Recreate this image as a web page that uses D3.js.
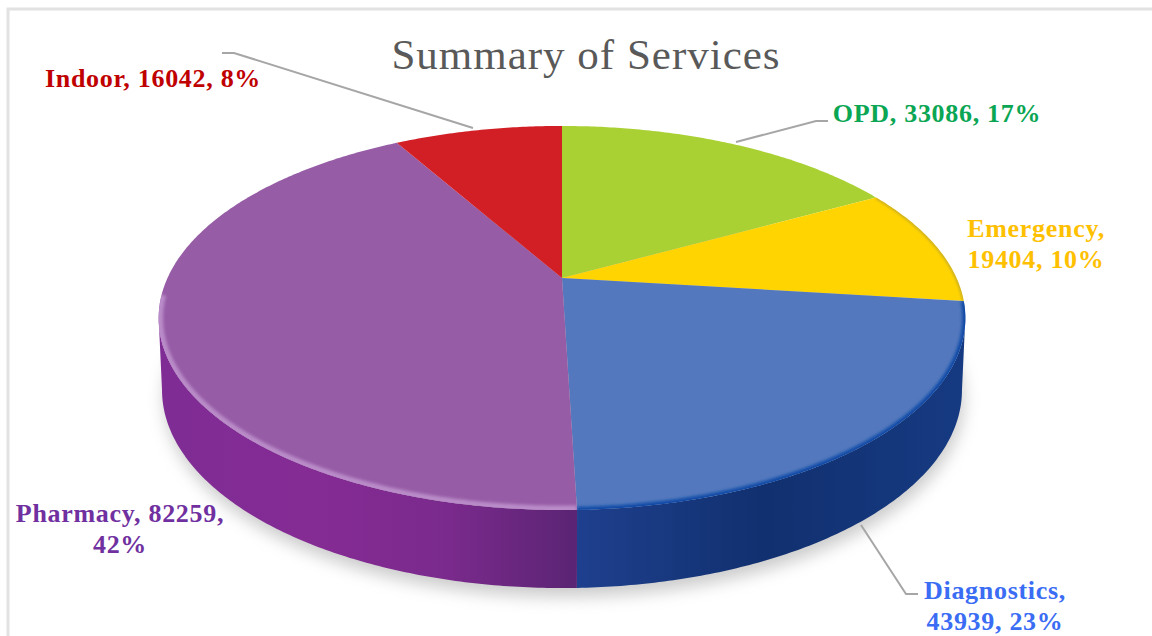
<!DOCTYPE html>
<html lang="en">
<head>
<meta charset="utf-8" />
<title>Summary of Services</title>
<script src="https://d3js.org/d3.v7.min.js"></script>
<style>
  body { margin: 0; background: #fff; }
  svg { display: block; }
  text { font-family: "Liberation Serif", "DejaVu Serif", serif; }
  .title { fill: #595959; font-size: 43px; letter-spacing: 1px; text-anchor: middle; }
  .label { font-size: 26px; font-weight: bold; text-anchor: middle; letter-spacing: 0.7px; }
  .leader { fill: none; stroke: #a6a6a6; stroke-width: 2px; }
</style>
</head>
<body>
<div id="chart"></div>
<script>
var categories = ["OPD", "Emergency", "Diagnostics", "Pharmacy", "Indoor"];
var values = [33086, 19404, 43939, 82259, 16042];
var percents = [17, 10, 23, 42, 8];

var topColors = ["#a9d134", "#ffd400", "#5378bd", "#965ca6", "#d21f26"];
var labelColors = ["#0aa654", "#ffc000", "#3a6cf4", "#7030a0", "#c00000"];

var width = 1152, height = 636;

// perspective of the disc: k is the foreshortening, the rest place it on the page
var k = 0.2083;
var topDisc = { x: 562, y: 278, a: 183.7, b: 394.5 };
var baseDisc = { x: 562, y: 348.8, a: 189.4, b: 391.2 };

// angles where the disc outline is widest, the wall stops there
var rightEdge = Math.PI / 2 + Math.asin(k);
var leftEdge = 3 * Math.PI / 2 - Math.asin(k);

function project(disc, angle) {
  var u = Math.sin(angle), v = Math.cos(angle), d = 1 + k * v;
  return [disc.x + disc.b * u / d, disc.y - disc.a * v / d];
}

function arcPoints(disc, a0, a1) {
  var n = Math.max(2, Math.ceil(Math.abs(a1 - a0) / 0.01));
  return d3.range(n + 1).map(function (i) { return project(disc, a0 + (a1 - a0) * i / n); });
}

var line = d3.line();

var slices = d3.pie().sort(null).value(function (d) { return d; })(values);

var svg = d3.select("#chart").append("svg").attr("width", width).attr("height", height);
var defs = svg.append("defs");

var shadow = defs.append("filter").attr("id", "shadow")
  .attr("x", "-10%").attr("y", "-10%").attr("width", "120%").attr("height", "125%");
shadow.append("feGaussianBlur").attr("stdDeviation", 8);

var soft = defs.append("filter").attr("id", "soft")
  .attr("x", "-5%").attr("y", "-5%").attr("width", "110%").attr("height", "110%");
soft.append("feGaussianBlur").attr("stdDeviation", 1.8);

function sideGradient(id, stops) {
  var g = defs.append("linearGradient").attr("id", id)
    .attr("gradientUnits", "userSpaceOnUse")
    .attr("x1", 158).attr("x2", 966).attr("y1", 0).attr("y2", 0);
  stops.forEach(function (s) {
    g.append("stop").attr("offset", s[0]).attr("stop-color", s[1]);
  });
}
sideGradient("sideBlue", [[0.51, "#1f408f"], [0.75, "#11306f"], [1, "#163a82"]]);
sideGradient("sidePurple", [[0, "#7f2c95"], [0.2, "#852b94"], [0.36, "#7a2a8c"], [0.51, "#5c2475"]]);

// image frame
svg.append("rect").attr("x", 8).attr("y", 9).attr("width", width).attr("height", height)
  .attr("fill", "none").attr("stroke", "#e2e2e2").attr("stroke-width", 3);

// ground shadow
svg.append("path")
  .attr("d", line(arcPoints(baseDisc, 0, 2 * Math.PI)) + "Z")
  .attr("transform", "translate(2,9)")
  .attr("fill", "#9a9a9a").attr("opacity", 0.5)
  .attr("filter", "url(#shadow)");

// side walls of the two slices that face the viewer
var walls = [
  { fill: "url(#sidePurple)", from: slices[3].startAngle, to: leftEdge },
  { fill: "url(#sideBlue)", from: rightEdge, to: slices[2].endAngle }
];
svg.append("g").selectAll("path")
  .data(walls)
  .join("path")
  .attr("d", function (w) {
    return line(arcPoints(topDisc, w.from, w.to).concat(arcPoints(baseDisc, w.to, w.from))) + "Z";
  })
  .attr("fill", function (w) { return w.fill; });

function slicePath(s) {
  return line([[topDisc.x, topDisc.y]].concat(arcPoints(topDisc, s.startAngle, s.endAngle))) + "Z";
}

// top face
svg.append("g").selectAll("path")
  .data(slices)
  .join("path")
  .attr("d", slicePath)
  .attr("fill", function (d, i) { return topColors[i]; });

// bevel along the rim, kept inside each slice
slices.forEach(function (s, i) {
  defs.append("clipPath").attr("id", "clip" + i).append("path").attr("d", slicePath(s));
});
var bevels = [
  { i: 1, color: "#a8963a", width: 2, from: slices[1].startAngle, to: slices[1].endAngle },
  { i: 2, color: "#0b49a6", width: 6, from: slices[2].startAngle, to: slices[2].endAngle },
  { i: 3, color: "#b98bc8", width: 9, from: slices[3].startAngle, to: leftEdge + 0.12 }
];
bevels.forEach(function (b) {
  svg.append("g").attr("clip-path", "url(#clip" + b.i + ")")
    .append("path")
    .attr("d", line(arcPoints(topDisc, b.from, b.to)))
    .attr("fill", "none")
    .attr("stroke", b.color)
    .attr("stroke-width", b.width)
    .attr("filter", "url(#soft)");
});

// leader lines
var leaders = [
  [[222, 53], [234, 53], [473, 128]],
  [[736, 142], [816, 121], [828, 121]],
  [[861, 525], [906, 594], [918, 594]]
];
svg.append("g").selectAll("path")
  .data(leaders)
  .join("path")
  .attr("class", "leader")
  .attr("d", line);

svg.append("text").attr("class", "title").attr("x", 586).attr("y", 69)
  .text("Summary of Services");

// label placement, one entry per category
var labelLayout = [
  { x: 937, y: 122 },
  { x: 1036, y: 237 },
  { x: 995, y: 599 },
  { x: 120, y: 522 },
  { x: 153, y: 87 }
];
var lineBreaks = [false, true, true, "last", false];

function labelLines(i) {
  var name = categories[i], v = values[i], p = percents[i] + "%";
  if (lineBreaks[i] === true) return [name + ",", v + ", " + p];
  if (lineBreaks[i] === "last") return [name + ", " + v + ",", p];
  return [name + ", " + v + ", " + p];
}

categories.forEach(function (c, i) {
  var t = svg.append("text").attr("class", "label")
    .attr("x", labelLayout[i].x).attr("y", labelLayout[i].y)
    .attr("fill", labelColors[i]);
  labelLines(i).forEach(function (l, j) {
    t.append("tspan").attr("x", labelLayout[i].x).attr("dy", j ? 31 : 0).text(l);
  });
});
</script>
</body>
</html>
